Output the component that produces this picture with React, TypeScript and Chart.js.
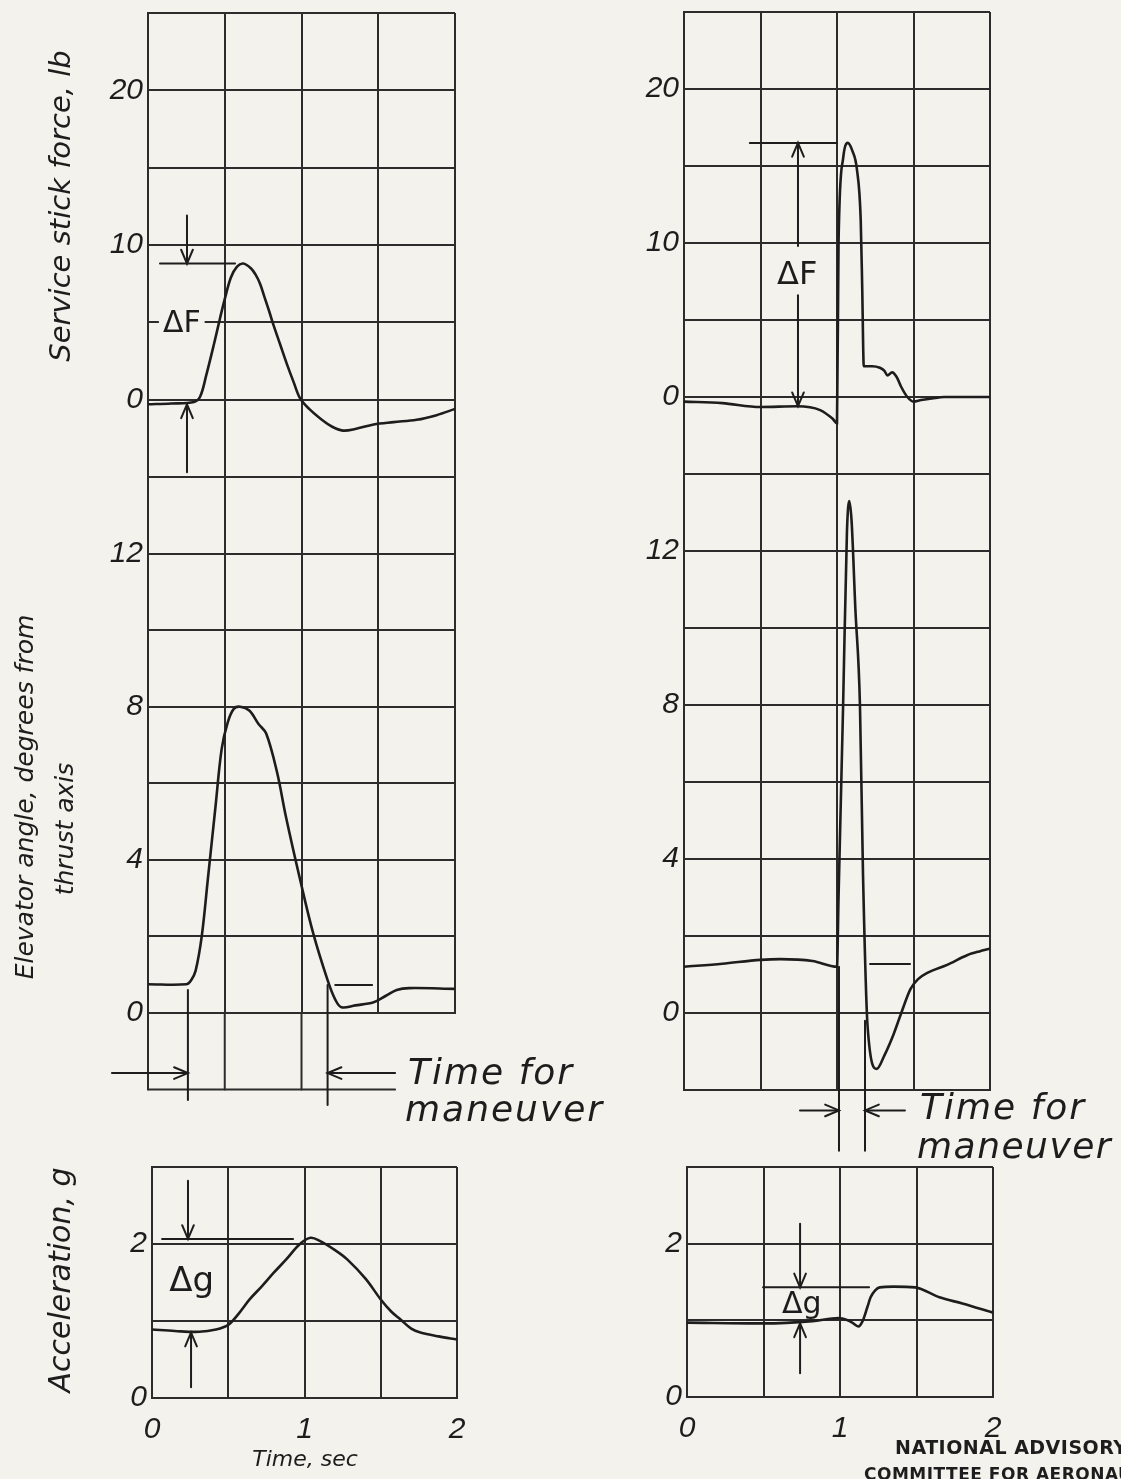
import React, { useEffect, useRef } from "react";
import { Chart, registerables } from "chart.js";

Chart.register(...registerables);

const PAGE_W = 1121;
const PAGE_H = 1479;
const PAPER = "#f3f2ec";
const INK = "#1d1d1d";
const GRID = "#2c2c2c";
const HAND = '"DejaVu Sans", "Liberation Sans", sans-serif';
const TICK_FONT = { family: '"Liberation Sans", "DejaVu Sans", sans-serif', size: 30, style: "italic" as const };

// ---------- time axis ----------
const timeLabels = [0, 1, 2];

// ---------- left column: first maneuver ----------
const forceTime1 = [0, 0.15, 0.3, 0.34, 0.38, 0.43, 0.47, 0.5, 0.54, 0.58, 0.62, 0.67, 0.7, 0.73, 0.76, 0.79, 0.815, 0.86, 0.905, 0.95, 0.99, 1.05, 1.12, 1.2, 1.27, 1.35, 1.47, 1.6, 1.75, 1.88, 2.0];
const force1 = [-0.3, -0.25, -0.15, 0.2, 1.6, 3.6, 5.3, 6.5, 7.9, 8.6, 8.8, 8.5, 8.1, 7.5, 6.6, 5.7, 4.9, 3.6, 2.3, 1.1, 0.1, -0.6, -1.2, -1.75, -2.0, -1.9, -1.6, -1.45, -1.3, -1.0, -0.6];

const elevTime1 = [0, 0.25, 0.28, 0.31, 0.35, 0.39, 0.44, 0.48, 0.52, 0.56, 0.6, 0.66, 0.72, 0.77, 0.84, 0.9, 0.99, 1.075, 1.17, 1.22, 1.26, 1.35, 1.47, 1.55, 1.62, 1.7, 2.0];
const elev1 = [0.75, 0.75, 0.85, 1.1, 2.0, 3.5, 5.4, 6.9, 7.6, 7.95, 8.0, 7.9, 7.55, 7.3, 6.3, 5.1, 3.5, 2.1, 0.86, 0.35, 0.15, 0.2, 0.28, 0.45, 0.6, 0.65, 0.63];

const accTime1 = [0, 0.15, 0.31, 0.42, 0.5, 0.57, 0.64, 0.72, 0.8, 0.88, 0.97, 1.04, 1.1, 1.2, 1.28, 1.4, 1.5, 1.57, 1.63, 1.7, 1.76, 1.88, 2.0];
const acc1 = [0.89, 0.87, 0.86, 0.89, 0.95, 1.1, 1.28, 1.45, 1.63, 1.8, 2.0, 2.08, 2.04, 1.92, 1.8, 1.55, 1.28, 1.12, 1.02, 0.9, 0.85, 0.8, 0.76];

// ---------- right column: second maneuver ----------
const forceTime2 = [0, 0.25, 0.5, 0.74, 0.89, 0.97, 1.0, 1.01, 1.04, 1.07, 1.1, 1.13, 1.155, 1.165, 1.175, 1.23, 1.28, 1.31, 1.33, 1.36, 1.39, 1.42, 1.46, 1.5, 1.55, 1.62, 1.7, 2.0];
const force2 = [-0.3, -0.4, -0.65, -0.6, -0.85, -1.4, -1.7, 10, 15.5, 16.5, 16.0, 14.8, 11.5, 7, 2.0, 2.0, 1.9, 1.7, 1.4, 1.6, 1.3, 0.65, 0.0, -0.3, -0.2, -0.1, 0, 0];

const elevTime2 = [0, 0.25, 0.5, 0.63, 0.84, 1.0, 1.01, 1.04, 1.065, 1.08, 1.095, 1.12, 1.15, 1.17, 1.2, 1.26, 1.31, 1.37, 1.42, 1.48, 1.53, 1.59, 1.72, 1.85, 1.93, 2.0];
const elev2 = [1.2, 1.28, 1.38, 1.4, 1.35, 1.2, 3.0, 8, 12.5, 13.3, 12.8, 10.5, 8.0, 3.6, -0.35, -1.45, -1.1, -0.55, 0.0, 0.62, 0.88, 1.04, 1.25, 1.5, 1.6, 1.67];

const accTime2 = [0, 0.5, 0.82, 0.99, 1.05, 1.08, 1.12, 1.15, 1.18, 1.2, 1.23, 1.26, 1.35, 1.49, 1.65, 1.8, 2.0];
const acc2 = [0.97, 0.96, 0.99, 1.03, 1.0, 0.97, 0.92, 1.0, 1.18, 1.3, 1.39, 1.43, 1.44, 1.43, 1.3, 1.22, 1.1];

// ---------- axis tick labels ----------
const forceLabels = [0, 10, 20];
const elevLabels = [0, 4, 8, 12];
const accLabels = [0, 2];

// ---------- texts ----------
const forceTitle = "Service stick force, lb";
const elevTitle1 = "Elevator angle, degrees from";
const elevTitle2 = "thrust axis";
const accTitle = "Acceleration, g";
const timeTitle = "Time, sec";
const maneuverText1 = "Time for";
const maneuverText2 = "maneuver";
const deltaF = "\u0394F";
const deltaG = "\u0394g";
const naca1 = "NATIONAL ADVISORY";
const naca2 = "COMMITTEE FOR AERONAUTICS";

type Ctx = CanvasRenderingContext2D;
type Fn = (v: number) => number;

function seg(ctx: Ctx, x1: number, y1: number, x2: number, y2: number, w = 2) {
  ctx.lineWidth = w;
  ctx.beginPath();
  ctx.moveTo(x1, y1);
  ctx.lineTo(x2, y2);
  ctx.stroke();
}

function arrow(ctx: Ctx, x1: number, y1: number, x2: number, y2: number) {
  seg(ctx, x1, y1, x2, y2, 2);
  const a = Math.atan2(y2 - y1, x2 - x1);
  const L = 15;
  const s = 0.4;
  ctx.beginPath();
  ctx.moveTo(x2 - L * Math.cos(a - s), y2 - L * Math.sin(a - s));
  ctx.lineTo(x2, y2);
  ctx.lineTo(x2 - L * Math.cos(a + s), y2 - L * Math.sin(a + s));
  ctx.stroke();
}

function text(ctx: Ctx, t: string, x: number, y: number, font: string, align: CanvasTextAlign = "center", bgH = 0, spacing = "0px") {
  ctx.font = font;
  (ctx as any).letterSpacing = spacing;
  ctx.textAlign = align;
  ctx.textBaseline = "middle";
  if (bgH > 0) {
    const m = ctx.measureText(t);
    const w = m.width + 8;
    const x0 = align === "center" ? x - w / 2 : align === "left" ? x - 4 : x - w + 4;
    ctx.fillStyle = PAPER;
    ctx.fillRect(x0, y - bgH / 2, w, bgH);
  }
  ctx.fillStyle = INK;
  ctx.fillText(t, x, y);
  (ctx as any).letterSpacing = "0px";
}

function vtext(ctx: Ctx, t: string, cx: number, cy: number, font: string) {
  ctx.save();
  ctx.translate(cx, cy);
  ctx.rotate(-Math.PI / 2);
  ctx.font = font;
  ctx.textAlign = "center";
  ctx.textBaseline = "middle";
  ctx.fillStyle = INK;
  ctx.fillText(t, 0, 0);
  ctx.restore();
}

type Panel = {
  id: string;
  left: number;
  right: number;
  top: number;
  bottom: number;
  yMin: number;
  yMax: number;
  yStep: number;
  yLabels: number[];
  showX: boolean;
  smooth: boolean;
  times: number[];
  values: number[];
  draw: (ctx: Ctx, X: Fn, Y: Fn) => void;
};

const handFont = (size: number) => `italic ${size}px ${HAND}`;
const upFont = (size: number) => `${size}px ${HAND}`;

const PANELS: Panel[] = [
  {
    id: "force1",
    left: 148, right: 455, top: 13, bottom: 477,
    yMin: -5, yMax: 25, yStep: 5, yLabels: forceLabels, showX: false, smooth: true,
    times: forceTime1, values: force1,
    draw: (ctx, X, Y) => {
      seg(ctx, X(0.078), Y(8.8), X(0.567), Y(8.8));
      arrow(ctx, X(0.254), Y(11.9), X(0.254), Y(8.8));
      arrow(ctx, X(0.254), Y(-4.7), X(0.254), Y(-0.3));
      text(ctx, deltaF, X(0.22), Y(4.9), upFont(30), "center", 10);
      // page-level titles
      vtext(ctx, forceTitle, 62, 206, handFont(29));
      vtext(ctx, elevTitle1, 26, 797, handFont(25));
      vtext(ctx, elevTitle2, 66, 829, handFont(25));
      vtext(ctx, accTitle, 62, 1280, handFont(30));
      text(ctx, timeTitle, 305, 1460, handFont(22), "center");
      text(ctx, naca1, 895, 1449, `bold 19px "DejaVu Sans", sans-serif`, "left", 0, "0.5px");
      text(ctx, naca2, 864, 1476, `bold 17px "DejaVu Sans", sans-serif`, "left", 0, "0.5px");
    },
  },
  {
    id: "elev1",
    left: 148, right: 455, top: 477, bottom: 1013,
    yMin: 0, yMax: 14, yStep: 2, yLabels: elevLabels, showX: false, smooth: true,
    times: elevTime1, values: elev1,
    draw: (ctx, X, Y) => {
      // lower row of the grid (below zero), drawn short as on the sheet
      ctx.strokeStyle = GRID;
      [0, 0.5, 1.0].forEach((t) => seg(ctx, X(t), Y(0), X(t), Y(-2), 2));
      seg(ctx, X(0), Y(-2), X(1.61), Y(-2), 2);
      ctx.strokeStyle = INK;
      seg(ctx, X(1.22), Y(0.73), X(1.46), Y(0.73));
      seg(ctx, X(0.26), Y(0.6), X(0.26), Y(-2.27));
      seg(ctx, X(1.17), Y(0.73), X(1.17), Y(-2.4));
      arrow(ctx, X(-0.235), Y(-1.57), X(0.26), Y(-1.57));
      arrow(ctx, X(1.61), Y(-1.57), X(1.17), Y(-1.57));
      text(ctx, maneuverText1, 408, 1075, handFont(36), "left", 0, "2px");
      text(ctx, maneuverText2, 405, 1112, handFont(36), "left", 0, "2px");
    },
  },
  {
    id: "acc1",
    left: 152, right: 457, top: 1167, bottom: 1398,
    yMin: 0, yMax: 3, yStep: 1, yLabels: accLabels, showX: true, smooth: true,
    times: accTime1, values: acc1,
    draw: (ctx, X, Y) => {
      seg(ctx, X(0.066), Y(2.065), X(0.925), Y(2.065));
      arrow(ctx, X(0.236), Y(2.82), X(0.236), Y(2.065));
      arrow(ctx, X(0.256), Y(0.14), X(0.256), Y(0.85));
      text(ctx, deltaG, X(0.26), Y(1.5), upFont(34), "center", 0);
    },
  },
  {
    id: "force2",
    left: 684, right: 990, top: 12, bottom: 474,
    yMin: -5, yMax: 25, yStep: 5, yLabels: forceLabels, showX: false, smooth: false,
    times: forceTime2, values: force2,
    draw: (ctx, X, Y) => {
      seg(ctx, X(0.43), Y(16.5), X(1.0), Y(16.5));
      arrow(ctx, X(0.745), Y(9.8), X(0.745), Y(16.5));
      arrow(ctx, X(0.745), Y(6.6), X(0.745), Y(-0.6));
      text(ctx, deltaF, X(0.74), Y(7.9), upFont(32), "center", 0);
    },
  },
  {
    id: "elev2",
    left: 684, right: 990, top: 474, bottom: 1090,
    yMin: -2, yMax: 14, yStep: 2, yLabels: elevLabels, showX: false, smooth: false,
    times: elevTime2, values: elev2,
    draw: (ctx, X, Y) => {
      seg(ctx, X(1.216), Y(1.27), X(1.477), Y(1.27));
      seg(ctx, X(1.013), Y(1.2), X(1.013), Y(-3.58));
      seg(ctx, X(1.183), Y(-0.2), X(1.183), Y(-3.58));
      arrow(ctx, X(0.758), Y(-2.53), X(1.013), Y(-2.53));
      arrow(ctx, X(1.444), Y(-2.53), X(1.183), Y(-2.53));
      text(ctx, maneuverText1, 920, 1110, handFont(36), "left", 0, "2px");
      text(ctx, maneuverText2, 917, 1149, handFont(36), "left", 0, "1.5px");
    },
  },
  {
    id: "acc2",
    left: 687, right: 993, top: 1167, bottom: 1397,
    yMin: 0, yMax: 3, yStep: 1, yLabels: accLabels, showX: true, smooth: false,
    times: accTime2, values: acc2,
    draw: (ctx, X, Y) => {
      seg(ctx, X(0.497), Y(1.43), X(1.19), Y(1.43));
      arrow(ctx, X(0.739), Y(2.26), X(0.739), Y(1.43));
      arrow(ctx, X(0.739), Y(0.31), X(0.739), Y(0.96));
      text(ctx, deltaG, X(0.75), Y(1.2), upFont(30), "center", 0);
    },
  },
];

const Y_AXIS_W = 60;

function makeConfig(p: Panel): any {
  const xAxisH = p.showX ? 52 : 0;
  const annot = {
    id: "annot_" + p.id,
    afterDatasetsDraw(chart: any) {
      const ctx: Ctx = chart.ctx;
      const xs = chart.scales.x;
      const ys = chart.scales.y;
      ctx.save();
      ctx.strokeStyle = INK;
      ctx.fillStyle = INK;
      ctx.lineCap = "round";
      p.draw(ctx, (t) => xs.getPixelForValue(t), (v) => ys.getPixelForValue(v));
      ctx.restore();
    },
  };
  const curve: any = {
    data: p.times.map((t, i) => ({ x: t, y: p.values[i] })),
    borderColor: INK,
    borderWidth: 2.6,
    pointRadius: 0,
    fill: false,
  };
  if (p.smooth) {
    curve.tension = 0.35;
  } else {
    curve.cubicInterpolationMode = "monotone";
  }
  return {
    type: "line",
    data: { datasets: [curve] },
    options: {
      animation: false,
      responsive: false,
      events: [],
      layout: {
        padding: {
          left: p.left - Y_AXIS_W,
          top: p.top,
          right: PAGE_W - p.right,
          bottom: PAGE_H - p.bottom - xAxisH,
        },
      },
      plugins: { legend: { display: false }, tooltip: { enabled: false } },
      scales: {
        x: {
          type: "linear",
          min: 0,
          max: 2,
          ticks: {
            stepSize: 0.5,
            display: p.showX,
            autoSkip: false,
            maxRotation: 0,
            padding: 14,
            color: INK,
            font: TICK_FONT,
            callback: (v: number) => (timeLabels.includes(v) ? String(v) : ""),
          },
          grid: { color: GRID, lineWidth: 2, drawTicks: false },
          border: { display: true, color: GRID, width: 2 },
          afterFit: (s: any) => {
            s.height = xAxisH;
            s.paddingLeft = 0;
            s.paddingRight = 0;
          },
        },
        y: {
          type: "linear",
          min: p.yMin,
          max: p.yMax,
          ticks: {
            stepSize: p.yStep,
            autoSkip: false,
            padding: 5,
            color: INK,
            font: TICK_FONT,
            callback: (v: number) => (p.yLabels.includes(v) ? String(v) : ""),
          },
          grid: { color: GRID, lineWidth: 2, drawTicks: false },
          border: { display: true, color: GRID, width: 2 },
          afterFit: (s: any) => {
            s.width = Y_AXIS_W;
            s.paddingTop = 0;
            s.paddingBottom = 0;
          },
        },
      },
    },
    plugins: [annot],
  };
}

export default function App() {
  const refs = useRef<(HTMLCanvasElement | null)[]>([]);
  useEffect(() => {
    document.body.style.margin = "0";
    document.body.style.background = PAPER;
    const charts = PANELS.map((p, i) => new Chart(refs.current[i] as HTMLCanvasElement, makeConfig(p)));
    return () => charts.forEach((c) => c.destroy());
  }, []);
  return (
    <div style={{ position: "relative", width: PAGE_W, height: PAGE_H, background: PAPER, overflow: "hidden" }}>
      {PANELS.map((p, i) => (
        <canvas
          key={p.id}
          ref={(el) => {
            refs.current[i] = el;
          }}
          width={PAGE_W}
          height={PAGE_H}
          style={{ position: "absolute", left: 0, top: 0, width: PAGE_W, height: PAGE_H }}
        />
      ))}
    </div>
  );
}
